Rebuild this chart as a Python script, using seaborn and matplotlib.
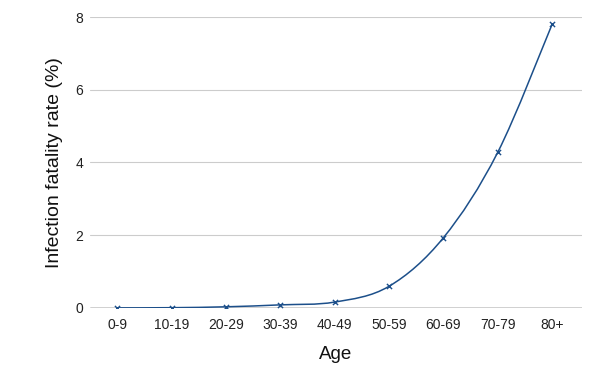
import matplotlib
matplotlib.use("Agg")
import matplotlib.pyplot as plt
from matplotlib.path import Path
from matplotlib.patches import PathPatch
import seaborn as sns
import pandas as pd
import numpy as np

age_groups = ["0-9", "10-19", "20-29", "30-39", "40-49", "50-59", "60-69", "70-79", "80+"]
ifr = [0.00161, 0.00695, 0.0309, 0.0844, 0.161, 0.595, 1.93, 4.28, 7.8]
y_ticks = [0, 2, 4, 6, 8]

sns.set_theme(style="white")
plt.rcParams["font.family"] = ["Liberation Sans", "DejaVu Sans"]

df = pd.DataFrame({"age": age_groups, "ifr": ifr})
df["pos"] = np.arange(len(age_groups))

fig = plt.figure(figsize=(6, 3.71), dpi=100)
ax = fig.add_axes([0.15, 0.17, 0.82, 0.784])

color = "#1c4f8a"

# smooth curve through the data points (Catmull-Rom as cubic Bezier)
xs = df["pos"].to_numpy(dtype=float)
ys = df["ifr"].to_numpy(dtype=float)
verts = [(xs[0], ys[0])]
codes = [Path.MOVETO]
n = len(xs)
for i in range(n - 1):
    x0, y0 = (xs[i - 1], ys[i - 1]) if i > 0 else (xs[i], ys[i])
    x1, y1 = xs[i], ys[i]
    x2, y2 = xs[i + 1], ys[i + 1]
    x3, y3 = (xs[i + 2], ys[i + 2]) if i + 2 < n else (xs[i + 1], ys[i + 1])
    c1 = (x1 + (x2 - x0) / 6, y1 + (y2 - y0) / 6)
    c2 = (x2 - (x3 - x1) / 6, y2 - (y3 - y1) / 6)
    verts += [c1, c2, (x2, y2)]
    codes += [Path.CURVE4] * 3
ax.add_patch(PathPatch(Path(verts, codes), facecolor="none", edgecolor=color, lw=1.1, zorder=3))

sns.scatterplot(data=df, x="pos", y="ifr", marker="x", color=color, s=14,
                linewidth=1.0, ax=ax, zorder=4, legend=False)

ax.set_xlim(-0.5, 8.55)
ax.set_ylim(0, 8)
ax.set_yticks(y_ticks)
ax.set_yticklabels([str(t) for t in y_ticks])
ax.set_xticks(df["pos"])
ax.set_xticklabels(age_groups)
ax.tick_params(axis="both", labelsize=10, length=0, colors="#222222")
ax.tick_params(axis="y", pad=5)
ax.tick_params(axis="x", pad=7)

ax.grid(axis="y", color="#cccccc", lw=0.8)
ax.axhline(0, color="#222222", lw=1.0, zorder=2)
for s in ["top", "right", "left", "bottom"]:
    ax.spines[s].set_visible(False)

ax.set_xlabel("Age", fontsize=13.5, labelpad=10, color="#111111")
ax.set_ylabel("Infection fatality rate (%)", fontsize=14, labelpad=9, color="#111111")

fig.savefig("out.png", dpi=100, facecolor="white")
